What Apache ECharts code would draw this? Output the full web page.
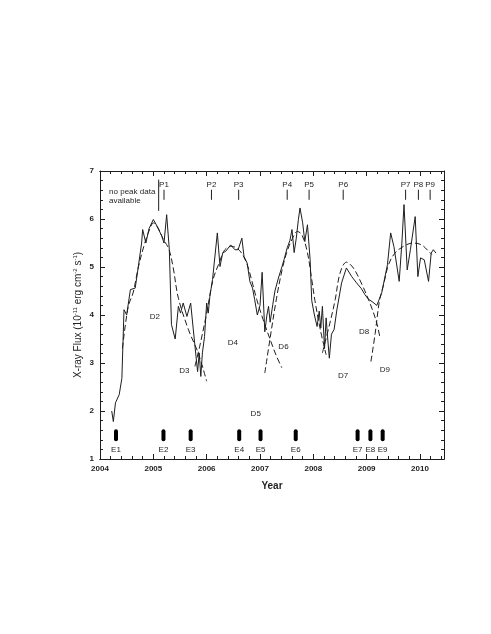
<!DOCTYPE html>
<html><head><meta charset="utf-8">
<script src="https://cdn.jsdelivr.net/npm/echarts@6/dist/echarts.min.js"></script>
<style>html,body{margin:0;padding:0;background:#fff}#c{width:491px;height:634px}</style>
</head><body><div id="c"></div>
<script>
// ---- data ----
const fluxYears = [2004.22,2004.25,2004.29,2004.36,2004.41,2004.45,2004.50,2004.57,2004.66,2004.71,2004.78,2004.80,2004.86,2004.92,
  2005.00,2005.07,2005.16,2005.20,2005.25,2005.30,2005.34,2005.41,2005.47,2005.51,2005.56,2005.63,2005.70,2005.75,2005.80,2005.83,2005.86,2005.89,2005.92,2005.96,
  2006.00,2006.03,2006.06,2006.11,2006.20,2006.25,2006.30,2006.36,2006.45,2006.53,2006.59,2006.66,2006.70,2006.76,2006.81,2006.86,2006.90,2006.95,
  2007.00,2007.04,2007.09,2007.13,2007.16,2007.19,2007.24,2007.28,2007.34,2007.41,2007.45,2007.51,2007.56,2007.60,2007.64,2007.68,2007.72,2007.75,2007.80,2007.84,2007.89,2007.94,2007.97,
  2008.02,2008.07,2008.11,2008.14,2008.17,2008.21,2008.24,2008.27,2008.30,2008.34,2008.39,2008.44,2008.53,2008.62,2008.72,2008.81,2008.90,2008.97,
  2009.03,2009.10,2009.19,2009.28,2009.39,2009.45,2009.51,2009.61,2009.66,2009.70,2009.76,2009.82,2009.91,2009.96,
  2010.01,2010.08,2010.16,2010.21,2010.25,2010.30];
const fluxValues = [2.0,1.78,2.17,2.34,2.68,4.11,4.0,4.53,4.56,4.94,5.5,5.78,5.5,5.8,
  5.99,5.85,5.64,5.5,6.09,5.36,3.8,3.5,4.18,4.04,4.25,3.97,4.25,3.69,3.14,2.82,3.21,2.72,3.21,3.55,
  4.25,4.04,4.39,4.74,5.71,5.01,5.29,5.33,5.46,5.36,5.36,5.6,5.22,5.08,4.7,4.56,4.32,4.0,
  4.2,4.89,3.65,4.0,4.18,3.85,4.22,4.5,4.75,5.0,5.15,5.4,5.55,5.78,5.3,5.6,5.99,6.23,5.92,5.53,5.88,5.15,4.3,
  4.0,3.76,4.08,3.73,4.18,3.3,3.94,3.5,3.1,3.6,3.7,4.1,4.67,4.98,4.8,4.67,4.55,4.42,
  4.33,4.28,4.2,4.45,5.05,5.71,5.43,4.7,5.5,6.3,4.94,5.36,6.05,4.8,
  5.19,5.15,4.7,5.29,5.36,5.29];

const fitA = [[2004.42,3.3],[2004.53,4.18],[2004.62,4.46],[2004.72,5.0],[2004.84,5.5],[2004.94,5.81],[2005.0,5.92],[2005.09,5.81],[2005.19,5.57],[2005.29,5.38],[2005.37,5.0],[2005.47,4.35],[2005.66,3.69],[2005.84,3.21],[2006.0,2.62]];
const fitB = [[2005.78,2.93],[2005.87,3.35],[2006.0,4.04],[2006.12,4.74],[2006.24,5.1],[2006.34,5.36],[2006.47,5.43],[2006.62,5.34],[2006.75,5.08],[2006.84,4.74],[2006.94,4.32],[2007.06,3.9],[2007.19,3.49],[2007.31,3.14],[2007.41,2.9]];
const fitC = [[2007.09,2.79],[2007.19,3.52],[2007.31,4.35],[2007.41,4.92],[2007.5,5.3],[2007.61,5.6],[2007.7,5.74],[2007.78,5.68],[2007.88,5.35],[2007.97,4.74],[2008.03,4.3],[2008.13,3.7],[2008.24,3.17]];
const fitD = [[2008.17,3.21],[2008.31,3.83],[2008.41,4.32],[2008.5,4.87],[2008.62,5.1],[2008.75,4.98],[2008.91,4.64],[2009.06,4.25],[2009.19,3.83],[2009.25,3.52]];
const fitE = [[2009.08,3.03],[2009.16,3.62],[2009.24,4.3],[2009.31,4.6],[2009.41,5.05],[2009.53,5.29],[2009.69,5.43],[2009.87,5.5],[2010.03,5.46],[2010.16,5.33],[2010.22,5.26]];

const peakYears = [2005.2,2006.09,2006.6,2007.51,2007.92,2008.56,2009.73,2009.97,2010.19];
const peakNames = ['P1','P2','P3','P4','P5','P6','P7','P8','P9'];
const eventYears = [2004.3,2005.19,2005.7,2006.61,2007.01,2007.67,2008.83,2009.07,2009.3];
const eventNames = ['E1','E2','E3','E4','E5','E6','E7','E8','E9'];
const dipNames = ['D2','D3','D4','D5','D6','D7','D8','D9'];
const dipX = [2005.03,2005.58,2006.49,2006.92,2007.44,2008.56,2008.95,2009.34];
const dipY = [3.97,2.84,3.42,1.94,3.33,2.74,3.66,2.86];
const noPeakYear = 2005.1;
const noPeakText = ['no peak data','available'];
const xTickLabels = ['2004','2005','2006','2007','2008','2009','2010'];
const yTickLabels = ['1','2','3','4','5','6','7'];

// ---- layout constants ----
const FONT = '"Liberation Sans", Arial, sans-serif';
const INK = '#1e1e1e';
const pTickTop = 6.61, pTickBot = 6.40, pLabelY = 6.71;
const npTop = 6.82, npBot = 6.17, npTextX = 2004.17, npTextY = [6.56, 6.38];
const eBarTop = 1.62, eBarBot = 1.37, eLabelY = 1.19;

const chart = echarts.init(document.getElementById('c'), null, {renderer: 'canvas'});

const xBase = {type:'value', min:2004, max:2010.45, gridIndex:0,
  axisLine:{show:true, onZero:false, lineStyle:{color:INK, width:1}},
  splitLine:{show:false}};
const yBase = {type:'value', min:1, max:7, interval:1, gridIndex:0,
  axisLine:{show:true, onZero:false, lineStyle:{color:INK, width:1}},
  splitLine:{show:false},
  axisTick:{show:true, inside:true, length:5, lineStyle:{color:INK}},
  minorTick:{show:true, splitNumber:5, length:3, lineStyle:{color:INK}},
  minorSplitLine:{show:false}};

function lineSeries(data, dashed){
  return {type:'line', data:data, showSymbol:false, symbol:'none', smooth: dashed ? 0.35 : false,
    lineStyle:{color:INK, width:1, type: dashed ? [6,3] : 'solid'}, z: 3, silent:true, animation:false};
}

const option = {
  animation:false,
  backgroundColor:'#fff',
  grid:{left:100, top:171, width:344, height:288, outerBoundsMode:'none', containLabel:false},
  xAxis:[
    Object.assign({}, xBase, {position:'bottom', interval:1,
      axisTick:{show:true, inside:true, length:5, lineStyle:{color:INK}},
      axisLabel:{show:true, margin:6, fontSize:8, fontWeight:'bold', color:INK, fontFamily:FONT, showMaxLabel:false,
        formatter:(v)=>{const i=Math.round(v-2004); return (Math.abs(v-2004-i)<1e-6 && xTickLabels[i]) ? xTickLabels[i] : '';}},
      name:'Year', nameLocation:'middle', nameGap:22, nameMoveOverlap:false,
      nameTextStyle:{fontSize:10, fontWeight:'bold', color:INK, fontFamily:FONT}}),
    Object.assign({}, xBase, {position:'bottom', interval:0.2,
      axisTick:{show:true, inside:true, length:3, lineStyle:{color:INK}}, axisLabel:{show:false}}),
    Object.assign({}, xBase, {position:'top', interval:1,
      axisTick:{show:true, inside:true, length:5, lineStyle:{color:INK}}, axisLabel:{show:false}}),
    Object.assign({}, xBase, {position:'top', interval:0.2,
      axisTick:{show:true, inside:true, length:3, lineStyle:{color:INK}}, axisLabel:{show:false}})
  ],
  yAxis:[
    Object.assign({}, yBase, {position:'left',
      axisLabel:{show:true, margin:6, fontSize:8, fontWeight:'bold', color:INK, fontFamily:FONT,
        formatter:(v)=>yTickLabels[Math.round(v-1)] || ''},
      name:'{n|X-ray Flux (10}{s|-11}{n| erg cm}{s|-2}{n| s}{s|-1}{n|)}',
      nameLocation:'middle', nameGap:15, nameRotate:90, nameMoveOverlap:false,
      nameTextStyle:{color:INK, fontFamily:FONT,
        rich:{n:{fontSize:10, color:INK, fontFamily:FONT}, s:{fontSize:6, color:INK, fontFamily:FONT, padding:[0,0,7,0]}}}}),
    Object.assign({}, yBase, {position:'right', axisLabel:{show:false}})
  ],
  series:[
    lineSeries(fluxYears.map((x,i)=>[x, fluxValues[i]]), false),
    lineSeries(fitA, true), lineSeries(fitB, true), lineSeries(fitC, true), lineSeries(fitD, true), lineSeries(fitE, true),
    { // peak tick marks
      type:'custom', silent:true, z:4, data: peakYears.map(x=>[x]),
      renderItem:(p, api)=>{
        const a = api.coord([api.value(0), pTickTop]); const b = api.coord([api.value(0), pTickBot]);
        const t = api.coord([api.value(0), pLabelY]);
        return {type:'group', children:[
          {type:'line', shape:{x1:a[0], y1:a[1], x2:b[0], y2:b[1]}, style:{stroke:INK, lineWidth:1}},
          {type:'text', x:t[0], y:t[1], style:{text:peakNames[p.dataIndex], font:'8px '+FONT, fill:INK, align:'center', verticalAlign:'middle'}}
        ]};
      }
    },
    { // "no peak data available" separator and text
      type:'custom', silent:true, z:4, data:[[noPeakYear]],
      renderItem:(p, api)=>{
        const a = api.coord([api.value(0), npTop]); const b = api.coord([api.value(0), npBot]);
        const t1 = api.coord([npTextX, npTextY[0]]); const t2 = api.coord([npTextX, npTextY[1]]);
        return {type:'group', children:[
          {type:'line', shape:{x1:a[0], y1:a[1], x2:b[0], y2:b[1]}, style:{stroke:INK, lineWidth:1}},
          {type:'text', x:t1[0], y:t1[1], style:{text:noPeakText[0], font:'8px '+FONT, fill:INK, align:'left', verticalAlign:'middle'}},
          {type:'text', x:t2[0], y:t2[1], style:{text:noPeakText[1], font:'8px '+FONT, fill:INK, align:'left', verticalAlign:'middle'}}
        ]};
      }
    },
    { // event bars
      type:'custom', silent:true, z:4, data: eventYears.map(x=>[x]),
      renderItem:(p, api)=>{
        const a = api.coord([api.value(0), eBarTop]); const b = api.coord([api.value(0), eBarBot]);
        const t = api.coord([api.value(0), eLabelY]);
        return {type:'group', children:[
          {type:'rect', shape:{x:a[0]-2, y:a[1], width:4, height:b[1]-a[1], r:2}, style:{fill:'#000'}},
          {type:'text', x:t[0], y:t[1], style:{text:eventNames[p.dataIndex], font:'8px '+FONT, fill:INK, align:'center', verticalAlign:'middle'}}
        ]};
      }
    },
    { // dip labels
      type:'custom', silent:true, z:4, data: dipX.map((x,i)=>[x, dipY[i]]),
      renderItem:(p, api)=>{
        const t = api.coord([api.value(0), api.value(1)]);
        return {type:'text', x:t[0], y:t[1], style:{text:dipNames[p.dataIndex], font:'8px '+FONT, fill:INK, align:'center', verticalAlign:'middle'}};
      }
    }
  ]
};
chart.setOption(option);
</script></body></html>
